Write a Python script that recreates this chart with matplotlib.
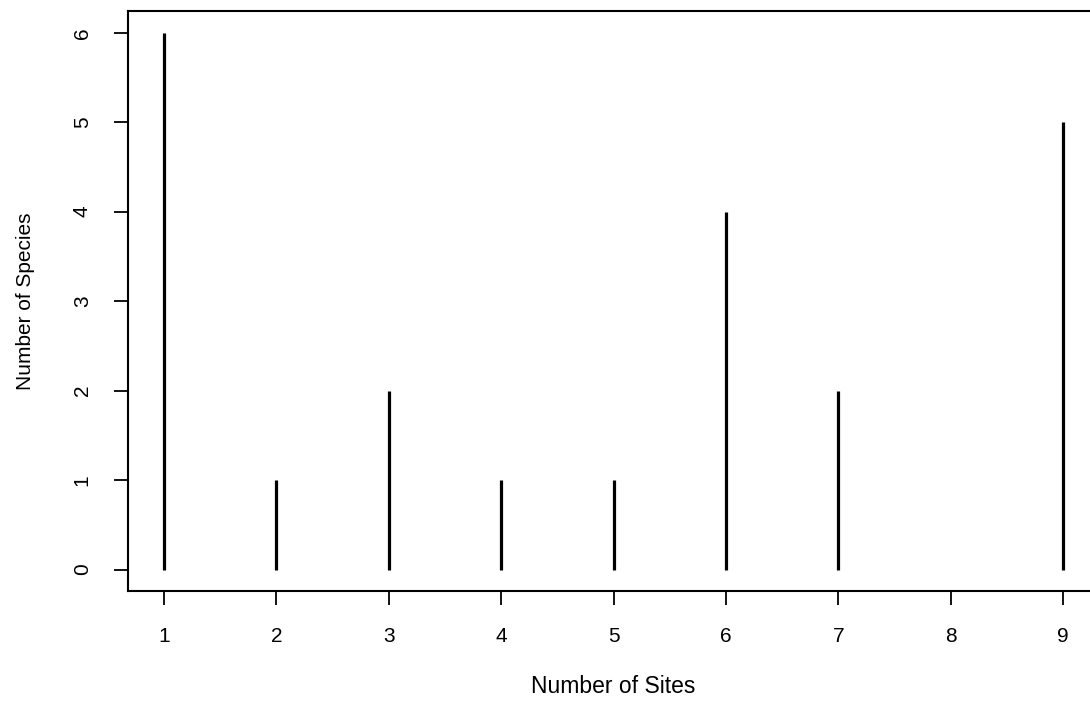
import matplotlib
matplotlib.use('Agg')
import matplotlib.pyplot as plt

plt.rcParams['font.family'] = ['Liberation Sans', 'DejaVu Sans']

sites = [1, 2, 3, 4, 5, 6, 7, 9]
species = [6, 1, 2, 1, 1, 4, 2, 5]
x_ticks = [1, 2, 3, 4, 5, 6, 7, 8, 9]
y_ticks = [0, 1, 2, 3, 4, 5, 6]

fig = plt.figure(figsize=(10.9, 7.02), dpi=100)
fig.patch.set_facecolor('white')
# right edge of the box runs off the picture, as in the scan
ax = fig.add_axes([0.1174, 0.158, 0.891, 0.826])

ax.vlines(sites, 0, species, color='black', lw=2.3)

ax.set_xlim(0.68, 9.32)
ax.set_ylim(-0.24, 6.24)
ax.set_xticks(x_ticks)
ax.set_yticks(y_ticks)
ax.set_yticklabels([str(v) for v in y_ticks], rotation=90, va='center')
ax.tick_params(axis='both', direction='out', length=10, width=1.3,
               labelsize=15, color='black')
ax.tick_params(axis='x', pad=16)
ax.tick_params(axis='y', pad=16)
for s in ax.spines.values():
    s.set_linewidth(1.5)

ax.set_xlabel('Number of Sites', fontsize=16.5, labelpad=21)
ax.set_ylabel('Number of Species', fontsize=15, labelpad=27)

fig.savefig('out.png', dpi=100, facecolor='white')
